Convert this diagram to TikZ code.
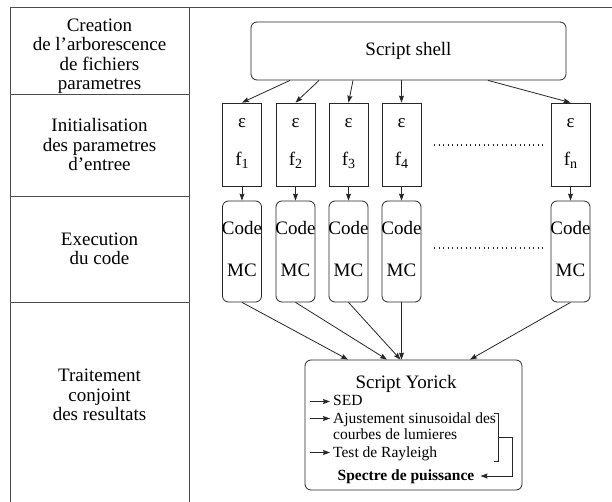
\documentclass[tikz,border=0pt]{standalone}
\usepackage{fontspec}
\setmainfont{Liberation Serif}
\usetikzlibrary{arrows.meta}
\begin{document}
\begin{tikzpicture}[x=1pt,y=-1pt,
  ln/.style={draw=black!85,line width=0.8pt},
  frm/.style={draw=black!70,line width=0.9pt},
  arr/.style={ln,-{Stealth[length=7pt,width=5pt,inset=1pt]}},
  lab/.style={inner sep=0pt,align=center,font=\fontsize{19}{19.5}\selectfont},
  big/.style={inner sep=0pt,font=\fontsize{19}{19.5}\selectfont},
  small/.style={inner sep=0pt,font=\fontsize{15.5}{16}\selectfont},
  ebox/.style={ln,rectangle,minimum width=39pt,minimum height=83pt,inner sep=0pt},
  cbox/.style={ln,rectangle,rounded corners=6pt,minimum width=39pt,minimum height=101pt,inner sep=0pt},
  dots/.style={draw=black!85,line width=1.1pt,dash pattern=on 1.2pt off 3.3pt}
]
\useasboundingbox (0,0) rectangle (612,502);
% frame
\draw[frm] (620,7) -- (10,7) -- (10,510);
\draw[frm] (189,7) -- (189,510);
\draw[frm] (10,94) -- (189,94);
\draw[frm] (10,196) -- (189,196);
\draw[frm] (10,302) -- (189,302);
% left labels
\node[lab] (l1) at (99.5,56) {Creation\\de l’arborescence\\de fichiers\\parametres};
\node[lab] (l2) at (99.5,145) {Initialisation\\des parametres\\d’entree};
\node[lab] (l3) at (99.5,249) {Execution\\du code};
\node[lab] (l4) at (99.5,395) {Traitement\\conjoint\\des resultats};
% script shell
\node[ln,rectangle,rounded corners=6pt,minimum width=315pt,minimum height=58pt,inner sep=0pt] (shell) at (408.5,51) {};
\node[big] (shellt) at (408.5,51) {Script shell};
% epsilon boxes
\foreach \n/\x/\s in {1/242/1,2/295.5/2,3/348.5/3,4/401.5/4,n/570.5/n}{
  \node[ebox] (e\n) at (\x,144.5) {};
  \node[big] (eps\n) at (\x,123) {ε};
  \node[big] (f\n) at (\x,160) {f\raisebox{-0.35ex}{\fontsize{14}{14}\selectfont\s}};
  \node[cbox] (c\n) at (\x,251.5) {};
  \node[big] (code\n) at (\x,228) {Code};
  \node[big] (mc\n) at (\x,270) {MC};
  \draw[arr] (e\n.south) -- (c\n.north);
}
% dots
\coordinate (d1a) at (434,145); \coordinate (d1b) at (543,145);
\coordinate (d2a) at (434,248); \coordinate (d2b) at (543,248);
\draw[dots] (d1a) -- (d1b);
\draw[dots] (d2a) -- (d2b);
% shell arrows
\draw[arr] ([xshift=-118.5pt]shell.south) -- (e1.north);
\draw[arr] ([xshift=-89.5pt]shell.south) -- (e2.north);
\draw[arr] ([xshift=-55.5pt]shell.south) -- (e3.north);
\draw[arr] ([xshift=-7pt]shell.south) -- (e4.north);
\draw[arr] ([xshift=79.5pt]shell.south) -- (en.north);
% Yorick box
\node[ln,rectangle,rounded corners=6pt,minimum width=217pt,minimum height=130pt,inner sep=0pt] (yor) at (413.5,425) {};
\draw[arr] (c1.south) -- ([xshift=-65.5pt]yor.north);
\draw[arr] (c2.south) -- ([xshift=-26.5pt]yor.north);
\draw[arr] (c3.south) -- ([xshift=-13pt]yor.north);
\draw[arr] (c4.south) -- ([xshift=-12pt]yor.north);
\draw[arr] (cn.south) -- ([xshift=56.5pt]yor.north);
\node[big,anchor=base] (yt) at (406,388) {Script Yorick};
\node[small,anchor=base west] (i1) at (333,405) {SED};
\node[small,anchor=base west] (i2) at (333,423) {Ajustement sinusoidal des};
\node[small,anchor=base west] (i2b) at (333,439.5) {courbes de lumieres};
\node[small,anchor=base west] (i3) at (333,457.5) {Test de Rayleigh};
\node[small,anchor=base,font=\fontsize{15.5}{16}\selectfont\bfseries] (sp) at (406,480) {Spectre de puissance};
\coordinate (a1) at (310,401.5);
\coordinate (a2) at (310,418.5);
\coordinate (a3) at (310,452.5);
\draw[arr] (a1) -- ([xshift=-3pt]i1.west |- a1);
\draw[arr] (a2) -- ([xshift=-3pt]i2.west |- a2);
\draw[arr] (a3) -- ([xshift=-3pt]i3.west |- a3);
% bracket
\coordinate (bt) at (498,413); \coordinate (bb) at (498,461);
\draw[ln] ([xshift=-4pt]bt) -- (bt) -- (bb) -- ([xshift=-4pt]bb);
\coordinate (bm) at (498,437);
\coordinate (bc) at (512,437);
\coordinate (bd) at (512,476);
\draw[arr] (bm) -- (bc) -- (bd) -- ([xshift=6pt]sp.east |- bd);
\end{tikzpicture}
\end{document}
